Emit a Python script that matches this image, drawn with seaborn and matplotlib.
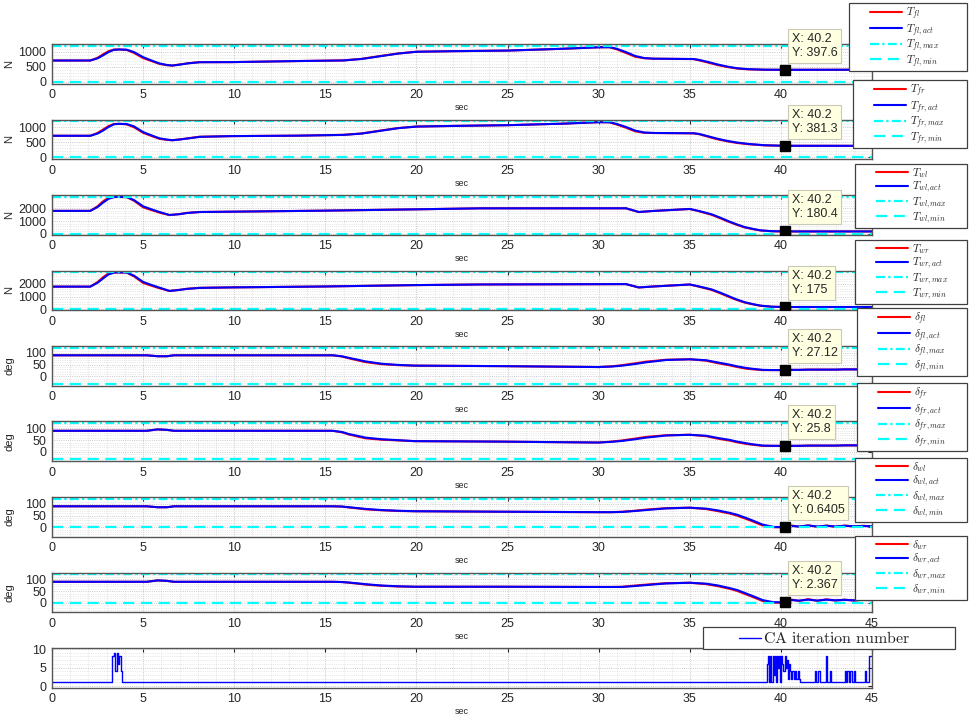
import numpy as np
import pandas as pd
import matplotlib
matplotlib.use("Agg")
import matplotlib.pyplot as plt
import seaborn as sns
from matplotlib.lines import Line2D
from matplotlib.legend_handler import HandlerLine2D
from matplotlib.ticker import MultipleLocator, AutoMinorLocator

# ---------------- data ----------------
t_T = [0, 2.1, 2.5, 2.8, 3.1, 3.4, 3.7, 4.1, 4.5, 5.0,
       5.5, 5.9, 6.3, 6.6, 7.0, 7.5, 8.1, 9.9, 13.5, 16,
       17, 18, 19, 20, 22, 25, 28, 30, 30.6, 31.0,
       31.5, 32.0, 32.5, 33, 35.2, 35.5, 36, 36.5, 37.1, 37.6,
       38.2, 39.1, 40.2, 45]
T_fl_ref = [708, 708, 800, 915, 1020, 1075, 1078, 1060, 960, 790,
            680, 595, 550, 540, 575, 620, 653, 655, 690, 712,
            765, 858, 945, 1002, 1020, 1040, 1100, 1152, 1150, 1080,
            960, 835, 785, 768, 756, 715, 640, 560, 485, 440,
            412, 399, 397.6, 400]
T_fl_act = [708, 708, 780, 880, 990, 1065, 1076, 1070, 990, 820,
            700, 610, 560, 540, 570, 615, 651, 655, 690, 710,
            760, 850, 940, 1000, 1020, 1040, 1100, 1150, 1155, 1100,
            990, 860, 790, 770, 758, 730, 660, 580, 500, 450,
            420, 402, 397.6, 400]
T_fr_ref = [716, 716, 810, 925, 1040, 1110, 1116, 1098, 1000, 815,
            700, 612, 580, 566, 595, 635, 684, 705, 720, 748,
            795, 888, 975, 1025, 1045, 1070, 1120, 1172, 1165, 1090,
            985, 865, 815, 808, 798, 770, 685, 600, 525, 475,
            435, 396, 381.3, 380]
T_fr_act = [716, 716, 790, 890, 1010, 1100, 1114, 1108, 1030, 840,
            720, 630, 590, 568, 590, 630, 680, 705, 720, 745,
            790, 880, 970, 1023, 1045, 1070, 1120, 1170, 1168, 1110,
            1010, 890, 825, 810, 800, 780, 700, 620, 540, 490,
            445, 400, 381.3, 380]

t_W = [0, 2.1, 2.5, 2.8, 3.1, 3.45, 4.1, 4.5, 5.0, 5.5,
       5.9, 6.45, 7.0, 7.4, 8.1, 9.9, 14.9, 19.9, 23.5, 31.5,
       32.2, 33, 35, 35.5, 36.2, 36.7, 37.1, 37.5, 38, 38.5,
       38.9, 39.5, 40.2, 45]
T_wl_ref = [1800, 1800, 2160, 2550, 2830, 2900, 2880, 2600, 2080, 1840,
            1660, 1470, 1550, 1640, 1712, 1737, 1816, 1921, 2000, 2000,
            1705, 1795, 1950, 1770, 1490, 1200, 960, 740, 500, 350,
            255, 195, 180.4, 180]
T_wl_act = [1800, 1800, 2100, 2450, 2750, 2900, 2900, 2650, 2158, 1900,
            1710, 1474, 1540, 1630, 1710, 1737, 1816, 1921, 2000, 2004,
            1714, 1793, 1951, 1793, 1529, 1250, 1002, 780, 527, 370,
            264, 200, 180.4, 180]
T_wr_ref = [1780, 1780, 2140, 2520, 2820, 2900, 2880, 2590, 2070, 1830,
            1650, 1440, 1530, 1610, 1685, 1720, 1790, 1900, 1950, 1975,
            1710, 1792, 1948, 1775, 1520, 1240, 1000, 770, 530, 370,
            270, 195, 175, 175]
T_wr_act = [1780, 1780, 2080, 2420, 2740, 2900, 2900, 2640, 2150, 1890,
            1700, 1440, 1520, 1600, 1680, 1720, 1790, 1900, 1950, 1980,
            1720, 1790, 1950, 1800, 1560, 1290, 1050, 810, 560, 390,
            280, 200, 175, 175]

t_D = [0, 5.2, 5.8, 6.3, 6.7, 15.4, 15.9, 16.3, 16.8, 17.2,
       18.1, 19, 19.9, 24.5, 30, 30.7, 31.3, 32.0, 32.6, 33.7,
       35, 35.9, 36.5, 37.2, 37.6, 38.1, 38.5, 39, 39.6, 40.2,
       40.6, 41, 41.5, 42, 42.5, 43, 43.5, 44, 44.5, 45]
d_fl_ref = [90, 90, 86, 86, 90, 90, 85, 77, 68, 61,
            52, 48, 46, 44, 40, 43, 48, 56, 63, 71,
            73, 67, 57, 47, 40, 33, 30, 27, 27, 27.12,
            28, 28, 29, 29, 29, 29, 30, 30, 30, 30]
d_fl_act = [90, 90, 86, 86, 90, 90, 86, 79, 71, 64,
            54, 49, 46, 44, 40, 42, 46, 53, 60, 70,
            73, 69, 60, 50, 43, 36, 32, 28, 27, 27.12,
            28, 28, 29, 29, 29, 29, 30, 30, 30, 30]
d_fr_ref = [90, 90, 96, 94, 90, 90, 84, 74, 65, 58,
            52, 49, 46, 44, 40, 44, 49, 57, 64, 71,
            73, 67, 57, 48, 41, 34, 30, 26, 26, 25.8,
            26, 26, 27, 27, 27, 27, 28, 28, 28, 28]
d_fr_act = [90, 90, 96, 94, 90, 90, 85, 76, 68, 61,
            54, 50, 46, 44, 40, 43, 47, 54, 61, 70,
            73, 69, 60, 51, 44, 37, 32, 27, 26, 25.8,
            26, 26, 27, 27, 27, 27, 28, 28, 28, 28]
d_wl_ref = [90, 90, 86, 86, 90, 90, 89, 85, 81, 77,
            73, 70, 69, 67, 65, 65, 67, 71, 76, 82,
            84, 78, 70, 59, 50, 36, 24, 8, 1, 0.6405,
            8, 3, 9, 3, 8, 3, 8, 4, 7, 5]
d_wl_act = [90, 90, 86, 86, 90, 90, 89, 86, 82, 79,
            74, 71, 69, 67, 65, 65, 66, 70, 74, 81,
            84, 80, 73, 62, 54, 40, 28, 12, 2, 0.6405,
            6, 4, 8, 4, 7, 4, 7, 5, 6, 5]
d_wr_ref = [90, 90, 96, 94, 90, 90, 89, 86, 82, 78,
            73, 70, 69, 69, 68, 68, 69, 74, 78, 84,
            86, 80, 72, 60, 51, 36, 24, 8, 1, 2.367,
            14, 8, 16, 9, 15, 10, 14, 10, 14, 12]
d_wr_act = [90, 90, 96, 94, 90, 90, 89, 87, 83, 80,
            74, 71, 69, 69, 68, 68, 68, 72, 76, 83,
            86, 82, 75, 63, 55, 40, 28, 12, 3, 2.367,
            12, 10, 14, 10, 14, 11, 13, 11, 13, 12]

# limits (max / min reference lines)
lim_max = [1200, 1200, 2900, 2900, 122, 122, 122, 122]
lim_min = [0, 0, 0, 0, -31, -31, 0, 0]
y_lims = [(-60, 1260), (-60, 1260), (-60, 3050), (-60, 3050),
          (-38.6, 129.6), (-38.6, 129.6), (-38.6, 129.6), (-38.6, 129.6)]
y_ticks = [[0, 500, 1000], [0, 500, 1000], [0, 1000, 2000], [0, 1000, 2000],
           [0, 50, 100], [0, 50, 100], [0, 50, 100], [0, 50, 100]]
y_units = ["N", "N", "N", "N", "deg", "deg", "deg", "deg"]
subs = ["fl", "fr", "wl", "wr", "fl", "fr", "wl", "wr"]
symbols = ["T", "T", "T", "T", r"\delta", r"\delta", r"\delta", r"\delta"]

# data tips
tip_x = 40.2
tip_y = [397.6, 381.3, 180.4, 175, 27.12, 25.8, 0.6405, 2.367]

# CA iteration number (step changes)
ca_t = [0, 3.30, 3.40, 3.48, 3.55, 3.62, 3.70, 3.78, 3.85,
        39.25, 39.30, 39.36, 39.42, 39.48, 39.54, 39.60, 39.66, 39.72, 39.78, 39.84, 39.90, 39.96,
        40.02, 40.08, 40.14, 40.20,
        40.26, 40.32, 40.38, 40.44, 40.50, 40.56, 40.62, 40.70, 40.76, 40.85, 40.92, 41.00, 41.06,
        41.85, 41.92, 42.05, 42.12, 42.45, 42.52, 42.70, 42.77,
        43.50, 43.57, 43.65, 43.72, 43.82, 43.89, 44.00, 44.07,
        44.60, 44.67, 44.85, 45]
ca_v = [1, 8, 9, 4, 9, 6, 8, 4, 1,
        6, 8, 1, 8, 1, 8, 3, 8, 1, 8, 5, 8, 1,
        8, 6, 4, 8,
        5, 7, 2, 6, 4, 2, 4, 2, 4, 2, 4, 2, 1,
        4, 1, 4, 1, 8, 1, 4, 1,
        4, 1, 4, 1, 4, 1, 4, 1,
        4, 1, 8, 8]

times = [t_T, t_T, t_W, t_W, t_D, t_D, t_D, t_D]
refs = [T_fl_ref, T_fr_ref, T_wl_ref, T_wr_ref, d_fl_ref, d_fr_ref, d_wl_ref, d_wr_ref]
acts = [T_fl_act, T_fr_act, T_wl_act, T_wr_act, d_fl_act, d_fr_act, d_wl_act, d_wr_act]

# ---------------- style ----------------
sns.set_theme(style="white")
plt.rcParams["font.family"] = ["Liberation Sans", "DejaVu Sans"]
plt.rcParams["mathtext.fontset"] = "cm"
TXT = "#262626"

W, H = 969, 720
fig = plt.figure(figsize=(W / 100, H / 100), dpi=100)
fig.patch.set_facecolor("white")


def fx(px):
    return px / W


def fy(py):
    return 1 - py / H


class OffsetLineHandler(HandlerLine2D):
    def __init__(self, frac=0.36, **kw):
        super().__init__(**kw)
        self.frac = frac

    def get_xdata(self, legend, xdescent, ydescent, width, height, fontsize):
        xd = np.array([-xdescent + self.frac * width, -xdescent + width])
        return xd, xd


leg_boxes = [(849, 3, 967), (853, 80, 967), (855, 164, 967), (855, 240, 967),
             (857, 308, 967), (857, 383, 967), (855, 458, 967), (855, 536, 967)]

AX_L, AX_R, AX_H = 52, 872, 39.5


def style_axes(ax, yt, ylim):
    ax.set_xlim(0, 45)
    ax.set_ylim(*ylim)
    ax.set_xticks(np.arange(0, 46, 5))
    ax.set_yticks(yt)
    ax.xaxis.set_minor_locator(MultipleLocator(1))
    ax.yaxis.set_minor_locator(AutoMinorLocator(5))
    ax.grid(which="major", color="#b8b8b8", lw=0.6, ls=":")
    ax.grid(which="minor", color="#d4d4d4", lw=0.5, ls=":")
    ax.tick_params(which="major", direction="in", length=3, width=0.8, color=TXT,
                   labelsize=9, labelcolor=TXT, pad=4, top=True, right=True)
    ax.tick_params(which="minor", length=0)
    for s in ax.spines.values():
        s.set_color("#555555")
        s.set_linewidth(1.0)
    ax.set_facecolor("white")
    ax.set_xlabel("sec", fontsize=6.5, color=TXT)
    ax.xaxis.set_label_coords(0.5, -0.5)


for i in range(8):
    top = 44 + 75.5 * i
    ax = fig.add_axes([fx(AX_L), fy(top + AX_H), fx(AX_R) - fx(AX_L), AX_H / H])
    df = pd.DataFrame({"t": times[i], "ref": refs[i], "act": acts[i]})
    sym, sb = symbols[i], subs[i]
    sns.lineplot(data=df, x="t", y="ref", ax=ax, color="#ff0000", lw=1.5,
                 estimator=None, sort=False, legend=False)
    sns.lineplot(data=df, x="t", y="act", ax=ax, color="#0000ff", lw=1.5,
                 estimator=None, sort=False, legend=False)
    ax.axhline(lim_max[i], color="#00ffff", lw=1.6, ls=(0, (4, 1.5, 1, 1.5)))
    ax.axhline(lim_min[i], color="#00ffff", lw=1.6, ls=(0, (5, 3)))
    style_axes(ax, y_ticks[i], y_lims[i])
    ax.set_ylabel(y_units[i], fontsize=8, color=TXT)
    ax.yaxis.set_label_coords(-0.046, 0.5)

    # data tip
    ax.plot([tip_x], [tip_y[i]], marker="s", ms=6.5, color="black", ls="none", zorder=12)
    ax.annotate(f"X: {tip_x:.4g}\nY: {tip_y[i]:.4g}", xy=(tip_x, tip_y[i]),
                xytext=(7, 11), textcoords="offset pixels", ha="left", va="bottom",
                fontsize=9, color=TXT, linespacing=1.25, zorder=13,
                bbox=dict(boxstyle="square,pad=0.3", fc="#ffffe1", ec="#c9c9b5", lw=0.8))

    handles = ax.get_lines()[:4]
    labels = [rf"${sym}_{{{sb}}}$", rf"${sym}_{{{sb},act}}$",
              rf"${sym}_{{{sb},max}}$", rf"${sym}_{{{sb},min}}$"]
    l, tp, r = leg_boxes[i]
    leg = ax.legend(handles, labels, loc="upper left",
                    bbox_to_anchor=(fx(l), fy(tp) - 0.05, fx(r) - fx(l), 0.05),
                    bbox_transform=fig.transFigure, mode="expand", borderaxespad=0,
                    fontsize=8, handlelength=4.6, handletextpad=0.3, borderpad=0.2,
                    labelspacing=0.0, fancybox=False, framealpha=1, edgecolor="#404040",
                    handler_map={Line2D: OffsetLineHandler(0.36)})
    leg.get_frame().set_linewidth(0.9)
    leg.set_zorder(20)

# ---- panel 9: CA iteration number ----
top = 44 + 75.5 * 8
ax9 = fig.add_axes([fx(AX_L), fy(top + AX_H), fx(AX_R) - fx(AX_L), AX_H / H])
df9 = pd.DataFrame({"t": ca_t, "n": ca_v})
sns.lineplot(data=df9, x="t", y="n", ax=ax9, color="#0000ff", lw=1.0, estimator=None,
             sort=False, drawstyle="steps-post", legend=False)
style_axes(ax9, [0, 5, 10], (-0.4, 10.3))
ax9.set_ylabel("")
leg9 = ax9.legend([ax9.get_lines()[0]], [r"$\mathrm{CA\ iteration\ number}$"], loc="upper left",
                  bbox_to_anchor=(fx(703), fy(627) - 0.05, fx(955) - fx(703), 0.05),
                  bbox_transform=fig.transFigure, mode="expand", borderaxespad=0,
                  fontsize=11.5, handlelength=3.4, handletextpad=0.15, borderpad=0.2,
                  fancybox=False, framealpha=1, edgecolor="#404040",
                  handler_map={Line2D: OffsetLineHandler(0.6)})
leg9.get_frame().set_linewidth(0.9)

fig.savefig("out.png", dpi=100, facecolor="white")
